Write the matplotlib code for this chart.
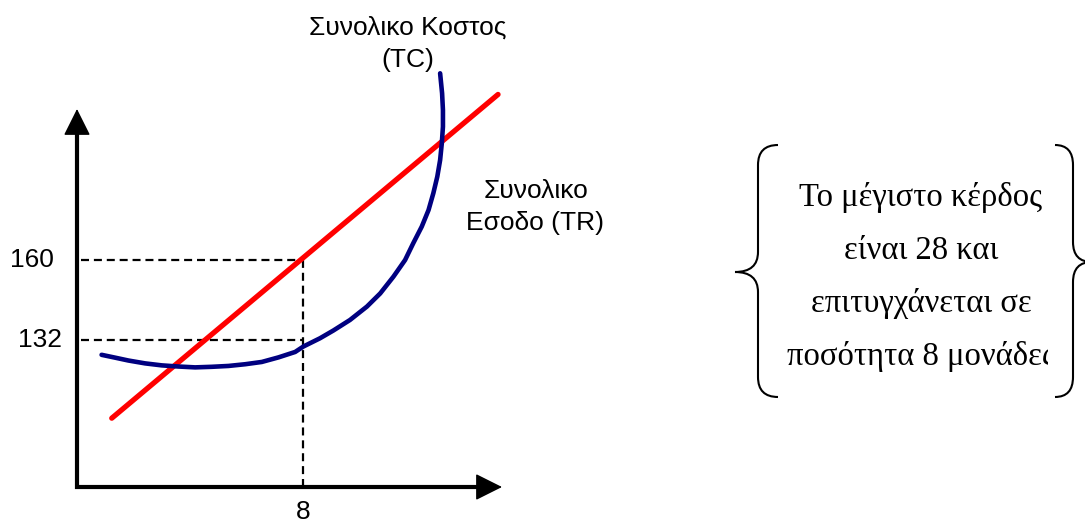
"""
    total cost / total revenue sketch
"""

import matplotlib.pyplot as plt
import matplotlib.transforms as mtransforms
from matplotlib.path import Path
from matplotlib.patches import PathPatch, Rectangle

# total revenue (straight line)
tr_q = [1.23, 14.90]
tr_v = [104.6, 218.0]

# total cost curve
tc_q = [0.87, 1.35, 1.82, 2.41, 3.00, 3.59, 4.18, 4.77, 5.36, 5.95, 6.54,
        7.13, 7.72, 8.01, 8.60, 9.07, 9.66, 10.26, 10.73, 11.20, 11.61,
        11.90, 12.20, 12.44, 12.61, 12.75, 12.85, 12.91, 12.95, 12.95,
        12.92, 12.85]
tc_v = [126.8, 125.8, 124.8, 123.8, 123.1, 122.7, 122.4, 122.6, 122.9, 123.5,
        124.3, 125.9, 127.8, 129.7, 132.6, 135.3, 139.0, 143.7, 148.3, 154.2,
        160.0, 165.9, 171.7, 177.5, 183.4, 189.2, 195.0, 200.9, 206.7, 212.5,
        218.4, 225.4]

q_opt = 8
tr_opt = 160
tc_opt = 132
tick_labels = ["160", "132", "8"]

note_lines = ["Το μέγιστο κέρδος", "είναι 28 και",
              "επιτυγχάνεται σε", "ποσότητα 8 μονάδες"]

W, H = 1085, 524


def main():
    fig = plt.figure(figsize=(W / 100, H / 100), dpi=100)
    # pixel coordinates, origin top-left
    px = mtransforms.Affine2D().scale(1 / W, -1 / H).translate(0, 1) + fig.transFigure

    x0, y0 = 77, 487
    x1, y1 = 502, 109
    ax = fig.add_axes([x0 / W, (H - y0) / H, (x1 - x0) / W, (y0 - y1) / H])
    ax.set_xlim(0, 15.04)
    ax.set_ylim(80.5, 212.9)
    ax.axis("off")
    xmin, xmax = ax.get_xlim()
    ymin, ymax = ax.get_ylim()

    # axes with arrow heads
    ax.plot([xmin, xmin, xmax - 0.6], [ymax - 5, ymin, ymin], color="black",
            lw=3, solid_joinstyle="miter", solid_capstyle="butt", clip_on=False)
    head = dict(arrowstyle="-|>,head_length=0.5,head_width=0.25",
                lw=1, color="black", mutation_scale=34,
                shrinkA=0, shrinkB=0)
    ax.annotate("", xy=(xmax, ymin), xytext=(xmax - 2, ymin),
                arrowprops=head, annotation_clip=False)
    ax.annotate("", xy=(xmin, ymax), xytext=(xmin, ymax - 20),
                arrowprops=head, annotation_clip=False)

    dash = dict(color="black", lw=1.6, dashes=(3.6, 2.2), clip_on=False)
    ax.plot([xmin + 0.15, q_opt], [tr_opt, tr_opt], **dash)
    ax.plot([xmin + 0.15, q_opt], [tc_opt, tc_opt], **dash)
    ax.plot([q_opt, q_opt], [ymin, tr_opt], **dash)

    ax.plot(tr_q, tr_v, color="#ff0000", lw=3.8, solid_capstyle="round",
            clip_on=False)
    ax.plot(tc_q, tc_v, color="#000080", lw=3.3, solid_capstyle="round",
            solid_joinstyle="round", clip_on=False)

    sans = dict(family="Liberation Sans", fontsize=19, color="black")
    ax.text(-1.6, tr_opt, tick_labels[0], ha="center", va="center", **sans)
    ax.text(-1.3, tc_opt, tick_labels[1], ha="center", va="center", **sans)
    ax.text(q_opt, ymin - 8.6, tick_labels[2], ha="center", va="center", **sans)

    fig.text(408, 28, "Συνολικο Κοστος", transform=px, ha="center",
             va="center", **sans)
    fig.text(408, 60, "(TC)", transform=px, ha="center", va="center", **sans)
    fig.text(536, 191, "Συνολικο", transform=px, ha="center", va="center",
             **sans)
    fig.text(535, 223, "Εσοδο (TR)", transform=px, ha="center", va="center",
             **sans)

    # braces round the note
    C3, L, M = Path.CURVE3, Path.LINETO, Path.MOVETO
    left = Path([(778, 145), (758, 145), (758, 165), (758, 252),
                 (758, 272), (735, 272), (758, 272), (758, 292),
                 (758, 377), (758, 397), (778, 397)],
                [M, C3, C3, L, C3, C3, C3, C3, L, C3, C3])
    right = Path([(1055, 145), (1073, 145), (1073, 165), (1073, 242),
                  (1073, 262), (1092, 262), (1073, 262), (1073, 282),
                  (1073, 377), (1073, 397), (1055, 397)],
                 [M, C3, C3, L, C3, C3, C3, C3, L, C3, C3])
    for p in (left, right):
        fig.add_artist(PathPatch(p, transform=px, fill=False, lw=1.5,
                                 edgecolor="black", capstyle="butt"))

    clip = Rectangle((0, 0), 1048, H, transform=px)
    for i, line in enumerate(note_lines):
        t = fig.text(921, 206 + i * 53, line, transform=px, ha="center",
                     va="baseline", family="Liberation Serif", fontsize=23.5,
                     color="black")
        t.set_clip_path(clip)

    fig.savefig("out.png", dpi=100)


if __name__ == "__main__":
    main()
